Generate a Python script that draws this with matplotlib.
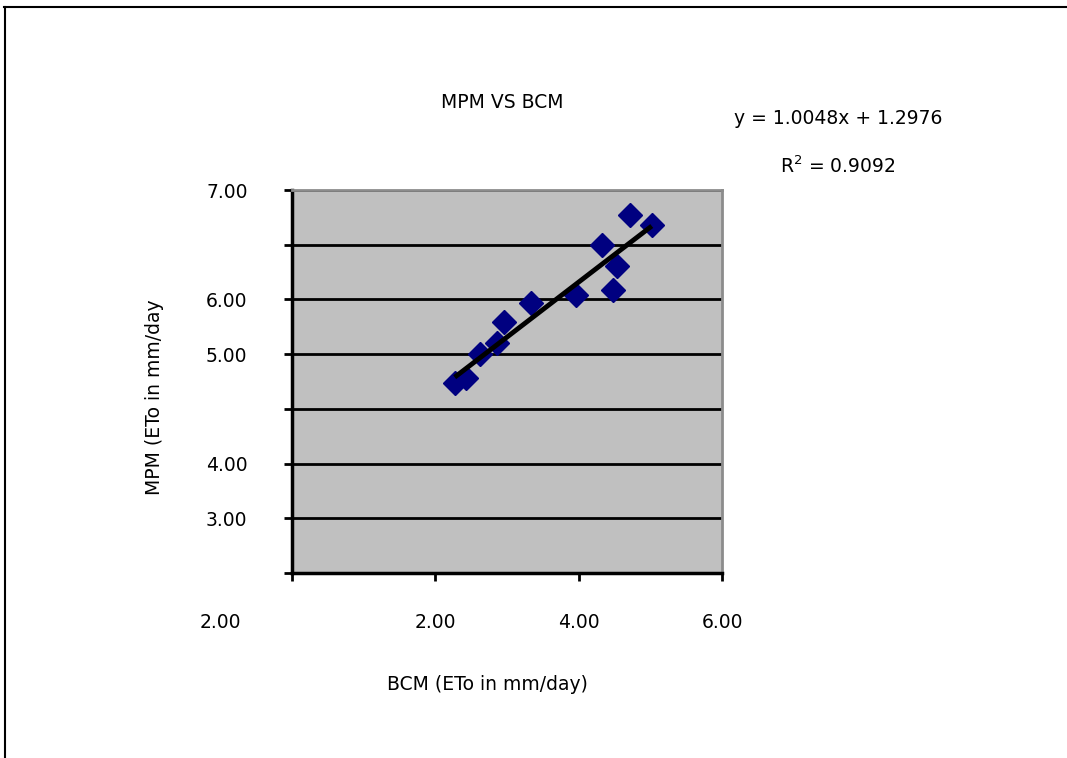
import matplotlib
matplotlib.use("Agg")
import matplotlib.pyplot as plt
from matplotlib.lines import Line2D
import numpy as np

# Data
bcm = [2.27, 2.43, 2.62, 2.86, 2.96, 3.33, 3.96, 4.33, 4.53, 4.48, 4.71, 5.02]
mpm = [3.47, 3.56, 4.00, 4.21, 4.59, 4.93, 5.08, 5.99, 5.61, 5.18, 6.54, 6.36]
slope = 1.0048
intercept = 1.2976
r2 = 0.9092

# Tick labels as they appear in the picture
y_tick_pos = [0, 1, 2, 3, 4, 5, 6, 7]
y_tick_labels = ["", "3.00", "4.00", "", "5.00", "6.00", "", "7.00"]
x_tick_pos = [0, 2, 4, 6]
x_label_pos = [-1, 2, 4, 6]
x_label_text = ["2.00", "2.00", "4.00", "6.00"]

plt.rcParams['font.family'] = ['DejaVu Sans']
FS = 13.5

W, H = 1067, 758
fig = plt.figure(figsize=(W / 100, H / 100), dpi=100)
ax = fig.add_axes([292 / W, 1 - 573 / H, (722 - 292) / W, (573 - 190) / H])
ax.set_facecolor('#c0c0c0')
ax.set_xlim(0, 6)
ax.set_ylim(0, 7)

# gridlines
ax.set_yticks(y_tick_pos)
ax.set_yticklabels(y_tick_labels, fontsize=FS)
ax.yaxis.grid(True, color='black', linewidth=2)
ax.set_axisbelow(True)
ax.set_xticks(x_tick_pos)
ax.set_xticklabels([""] * len(x_tick_pos))
ax.tick_params(axis='y', direction='out', length=6, width=2, pad=26, colors='black')
ax.tick_params(axis='x', direction='out', length=6, width=2)

for s in ['left', 'bottom']:
    ax.spines[s].set_color('black')
    ax.spines[s].set_linewidth(2.5)
for s in ['top', 'right']:
    ax.spines[s].set_color('#8c8c8c')
    ax.spines[s].set_linewidth(2)

# x labels placed as observed
trans = ax.get_xaxis_transform()
for xp, t in zip(x_label_pos, x_label_text):
    ax.text(xp, -0.128, t, transform=trans, ha='center', va='center', fontsize=FS, clip_on=False)

# data
ax.plot(bcm, mpm, linestyle='none', marker='D', markersize=12, color='#000080',
        markeredgecolor='#000080', zorder=3)
xs = np.array([min(bcm), max(bcm)])
ax.plot(xs, slope * xs + intercept, color='black', linewidth=3.5, zorder=4, solid_capstyle='butt')

# texts
fig.text(502 / W, 1 - 103 / H, "MPM VS BCM", ha='center', va='center', fontsize=FS)
fig.text(838 / W, 1 - 118 / H, f"y = {slope:.4f}x + {intercept:.4f}", ha='center', va='center', fontsize=FS)
fig.text(838 / W, 1 - 166 / H, f"R$^2$ = {r2:.4f}", ha='center', va='center', fontsize=FS)
fig.text(487 / W, 1 - 685 / H, "BCM (ETo in mm/day)", ha='center', va='center', fontsize=FS)
fig.text(155 / W, 1 - 397 / H, "MPM (ETo in mm/day", ha='center', va='center', rotation=90, fontsize=FS)

# outer frame lines (top and left)
fig.add_artist(Line2D([4 / W, 1.0], [1 - 7 / H, 1 - 7 / H], transform=fig.transFigure, color='black', linewidth=1.5))
fig.add_artist(Line2D([5 / W, 5 / W], [1 - 7 / H, 0.0], transform=fig.transFigure, color='black', linewidth=1.5))

fig.savefig("out.png", dpi=100)
